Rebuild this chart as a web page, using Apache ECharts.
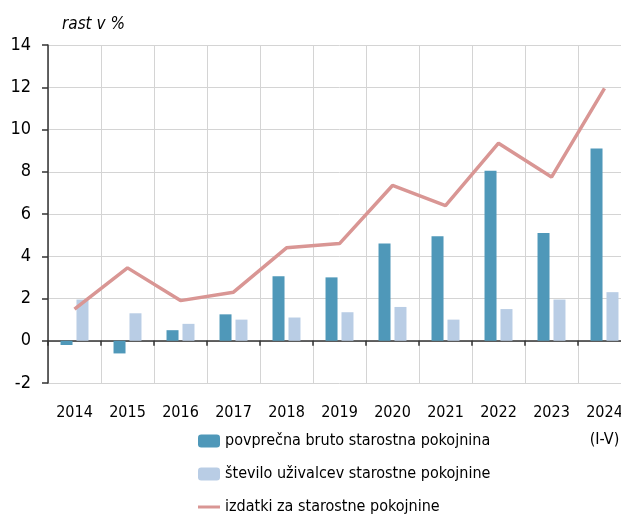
<!DOCTYPE html>
<html>
<head>
<meta charset="utf-8">
<script src="https://cdn.jsdelivr.net/npm/echarts@6/dist/echarts.min.js"></script>
<style>
  html, body { margin: 0; padding: 0; background: #fff; overflow: hidden; }
  /* risba je na desni odrezana, kot v izvirniku */
  #chart { width: 631px; height: 516px; }
</style>
</head>
<body>
<div id="chart"></div>
<script>
// podatki (rast v %)
var years = ['2014', '2015', '2016', '2017', '2018', '2019', '2020', '2021', '2022', '2023', '2024\n(I-V)'];
var pokojnina = [-0.2, -0.6, 0.5, 1.25, 3.05, 3.0, 4.6, 4.95, 8.05, 5.1, 9.1];
var uzivalci = [1.95, 1.3, 0.8, 1.0, 1.1, 1.35, 1.6, 1.0, 1.5, 1.95, 2.3];
var izdatki = [1.5, 3.45, 1.9, 2.3, 4.4, 4.6, 7.35, 6.4, 9.35, 7.75, 11.95];
var yTicks = { min: -2, max: 14, interval: 2 };
var names = ['povprečna bruto starostna pokojnina', 'število uživalcev starostne pokojnine', 'izdatki za starostne pokojnine'];

var font = '"Liberation Sans Narrow", "DejaVu Sans Condensed", "Roboto Condensed", "Liberation Sans", sans-serif';

var chart = echarts.init(document.getElementById('chart'));

// ena legenda na vrstico, da se ne prelomi v dva stolpca
var legends = names.map(function (n, i) {
  var item = i === 2
    ? { name: n, icon: 'path://M0,0 L22,0 L22,3 L0,3 Z' }
    : { name: n };
  return {
    orient: 'vertical',
    left: 193,
    top: 428 + i * 33,
    itemWidth: 22,
    itemHeight: i === 2 ? 3 : 13,
    textStyle: { fontFamily: font, fontSize: 16, color: '#000' },
    data: [item]
  };
});

var option = {
  animation: false,
  title: {
    text: 'rast v %',
    left: 57,
    top: 11,
    textStyle: { fontFamily: font, fontSize: 17, fontStyle: 'italic', fontWeight: 'normal', color: '#000' }
  },
  grid: { left: 48, top: 45, right: 0, bottom: 133, containLabel: false },
  legend: legends,
  xAxis: [
    {
      type: 'category',
      data: years,
      position: 'bottom',
      axisLine: { show: false, onZero: false },
      axisTick: { show: false },
      splitLine: { show: true, lineStyle: { color: '#d4d4d4', width: 1 } },
      axisLabel: { fontFamily: font, fontSize: 16, color: '#000', margin: 16, lineHeight: 27, interval: 0 }
    },
    {
      type: 'category',
      data: years,
      position: 'bottom',
      axisLine: { show: true, onZero: true, lineStyle: { color: '#333', width: 1.5 } },
      axisTick: { show: true, length: 5, lineStyle: { color: '#333', width: 1.5 } },
      axisLabel: { show: false },
      splitLine: { show: false }
    }
  ],
  yAxis: {
    type: 'value',
    min: yTicks.min,
    max: yTicks.max,
    interval: yTicks.interval,
    axisLine: { show: true, lineStyle: { color: '#333', width: 1.5 } },
    axisTick: { show: true, length: 6, lineStyle: { color: '#333', width: 1.5 } },
    splitLine: { show: true, lineStyle: { color: '#d4d4d4', width: 1 } },
    axisLabel: { fontFamily: font, fontSize: 18, color: '#000', margin: 17 }
  },
  series: [
    {
      name: names[0],
      type: 'bar',
      xAxisIndex: 0,
      data: pokojnina,
      barWidth: 12,
      barGap: '33%',
      itemStyle: { color: '#4f98b9' }
    },
    {
      name: names[1],
      type: 'bar',
      xAxisIndex: 0,
      data: uzivalci,
      barWidth: 12,
      itemStyle: { color: '#b9cde5' }
    },
    {
      name: names[2],
      type: 'line',
      xAxisIndex: 0,
      data: izdatki,
      symbol: 'none',
      lineStyle: { color: '#d99694', width: 3.5 },
      itemStyle: { color: '#d99694' }
    }
  ]
};

chart.setOption(option);
</script>
</body>
</html>
